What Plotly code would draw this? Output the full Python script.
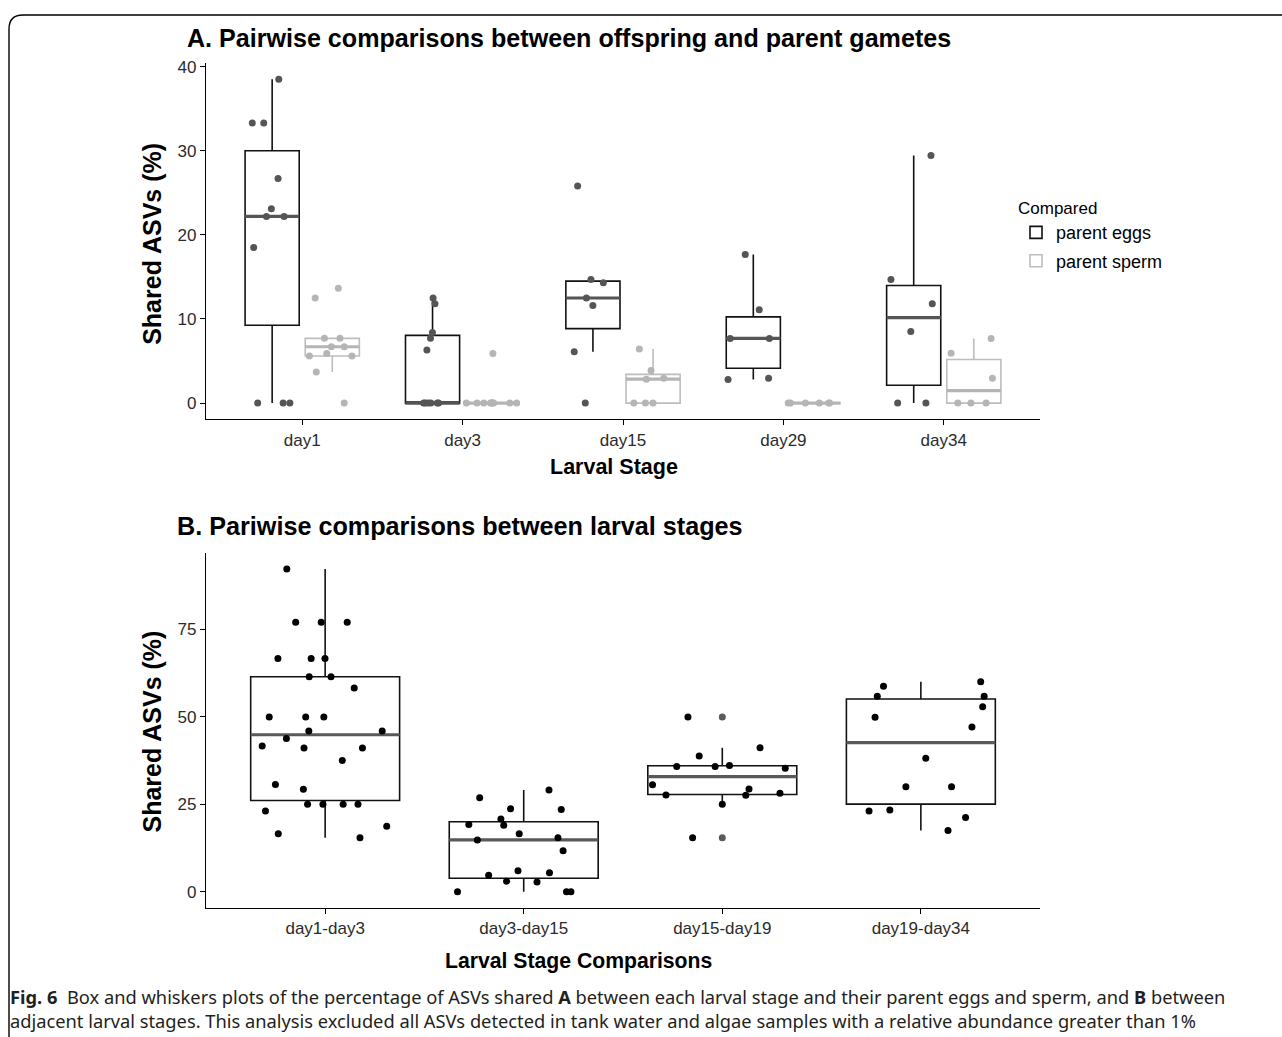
import numpy as np
import plotly.graph_objects as go

W, H = 1282, 1037

# ---------------- data ----------------
stages = ["day1", "day3", "day15", "day29", "day34"]
compared = ["parent eggs", "parent sperm"]

eggs_day1 = [0, 0, 0, 18.5, 22.2, 22.2, 23.1, 26.7, 33.3, 33.3, 38.5]
eggs_day3 = [0, 0, 0, 0, 0, 0, 6.3, 7.7, 8.4, 11.8, 12.5]
eggs_day15 = [0, 6.1, 11.6, 12.5, 14.3, 14.7, 25.8]
eggs_day29 = [2.8, 2.96, 7.69, 7.69, 11.1, 17.67]
eggs_day34 = [0, 0, 8.52, 11.8, 14.7, 29.43]

sperm_day1 = [0, 3.7, 5.6, 5.6, 5.9, 6.7, 6.7, 7.7, 7.7, 12.5, 13.65]
sperm_day3 = [0, 0, 0, 0, 0, 0, 0, 0, 0, 0, 5.9]
sperm_day15 = [0, 0, 0, 2.84, 2.96, 3.87, 6.43]
sperm_day29 = [0, 0, 0, 0, 0, 0]
sperm_day34 = [0, 0, 0, 2.96, 5.92, 7.69]

comparisons = ["day1-day3", "day3-day15", "day15-day19", "day19-day34"]
b_day1_day3 = [15.4, 16.6, 18.7, 23.1, 25, 25, 25, 25, 29.3, 30.7, 37.5, 41.1, 41.1,
               41.7, 43.8, 46, 46, 50, 50, 50, 58.3, 61.5, 61.5, 66.7, 66.7, 66.7,
               77.1, 77.1, 77.1, 92.3]
b_day3_day15 = [0, 0, 0, 2.75, 3.0, 4.7, 5.4, 6.0, 11.7, 14.8, 15.4, 16.6, 19.0, 19.2,
                20.8, 23.5, 23.7, 26.9, 29.1]
b_day15_day19 = [15.4, 25.0, 27.6, 27.7, 28.2, 29.4, 30.6, 35.3, 35.8, 35.8, 36.1, 38.8,
                 41.2, 50.0]
b_day19_day34 = [17.5, 21.2, 23.1, 23.4, 30.0, 30.0, 38.2, 47.1, 49.9, 52.9, 55.9, 55.9,
                 58.8, 60.1]

yticks_a = [0, 10, 20, 30, 40]
yticks_b = [0, 25, 50, 75]

eggs = [eggs_day1, eggs_day3, eggs_day15, eggs_day29, eggs_day34]
sperm = [sperm_day1, sperm_day3, sperm_day15, sperm_day29, sperm_day34]
bvals = [b_day1_day3, b_day3_day15, b_day15_day19, b_day19_day34]


# ---------------- helpers ----------------
def stats(groups):
    out = {"q1": [], "med": [], "q3": [], "lo": [], "hi": [], "outl": []}
    for g in groups:
        a = np.array(g, dtype=float)
        q1, med, q3 = np.percentile(a, [25, 50, 75])
        iqr = q3 - q1
        hi = a[a <= q3 + 1.5 * iqr].max()
        lo = a[a >= q1 - 1.5 * iqr].min()
        out["q1"].append(q1)
        out["med"].append(med)
        out["q3"].append(q3)
        out["lo"].append(lo)
        out["hi"].append(hi)
        out["outl"].append([v for v in g if v < lo or v > hi])
    return out


def px(x):
    return x / W


def py(y):
    return 1 - y / H


FONT = "Liberation Sans, Arial, Helvetica, sans-serif"

fig = go.Figure()

# ---------------- panel A ----------------
styles_a = [
    dict(name="parent eggs", line="#111111", median="#555555", pts="#555555", og="eggs"),
    dict(name="parent sperm", line="#bdbdbd", median="#b5b5b5", pts="#b5b5b5", og="sperm"),
]
for data, st in zip([eggs, sperm], styles_a):
    s = stats(data)
    fig.add_trace(go.Box(
        x=stages, q1=s["q1"], median=s["med"], q3=s["q3"],
        lowerfence=s["lo"], upperfence=s["hi"],
        name=st["name"], legendgroup=st["name"], showlegend=True,
        offsetgroup=st["og"], alignmentgroup="A",
        line=dict(color=st["line"], width=1.6), fillcolor="white",
        whiskerwidth=0, boxpoints=False, xaxis="x", yaxis="y", hoverinfo="skip"))
for data, st in zip([eggs, sperm], styles_a):
    s = stats(data)
    fig.add_trace(go.Box(
        x=stages, q1=s["med"], median=s["med"], q3=s["med"],
        lowerfence=s["med"], upperfence=s["med"],
        name=st["name"], legendgroup=st["name"], showlegend=False,
        offsetgroup=st["og"], alignmentgroup="A",
        line=dict(color=st["median"], width=3.2), fillcolor="rgba(0,0,0,0)",
        whiskerwidth=0, boxpoints=False, xaxis="x", yaxis="y", hoverinfo="skip"))
for data, st in zip([eggs, sperm], styles_a):
    xs, ys = [], []
    for stg, vals in zip(stages, data):
        xs += [stg] * len(vals)
        ys += list(vals)
    fig.add_trace(go.Box(
        x=xs, y=ys, name=st["name"], legendgroup=st["name"], showlegend=False,
        offsetgroup=st["og"], alignmentgroup="A",
        boxpoints="all", jitter=1, pointpos=0,
        line=dict(color="rgba(0,0,0,0)", width=0), fillcolor="rgba(0,0,0,0)",
        whiskerwidth=0,
        marker=dict(color=st["pts"], size=7, line=dict(width=0)),
        xaxis="x", yaxis="y", hoverinfo="y"))

# ---------------- panel B ----------------
sb = stats(bvals)
fig.add_trace(go.Box(
    x=comparisons, q1=sb["q1"], median=sb["med"], q3=sb["q3"],
    lowerfence=sb["lo"], upperfence=sb["hi"], width=0.75,
    line=dict(color="#111111", width=1.6), fillcolor="white", whiskerwidth=0,
    boxpoints=False, showlegend=False, xaxis="x2", yaxis="y2", hoverinfo="skip"))
fig.add_trace(go.Box(
    x=comparisons, q1=sb["med"], median=sb["med"], q3=sb["med"],
    lowerfence=sb["med"], upperfence=sb["med"], width=0.75,
    line=dict(color="#595959", width=3.2), fillcolor="rgba(0,0,0,0)", whiskerwidth=0,
    boxpoints=False, showlegend=False, xaxis="x2", yaxis="y2", hoverinfo="skip"))
ox, oy = [], []
for c, o in zip(comparisons, sb["outl"]):
    ox += [c] * len(o)
    oy += o
fig.add_trace(go.Scatter(
    x=ox, y=oy, mode="markers", marker=dict(color="#5a5a5a", size=7),
    showlegend=False, xaxis="x2", yaxis="y2", hoverinfo="y"))
xs, ys = [], []
for c, vals in zip(comparisons, bvals):
    xs += [c] * len(vals)
    ys += list(vals)
fig.add_trace(go.Box(
    x=xs, y=ys, width=0.8, boxpoints="all", jitter=1, pointpos=0,
    line=dict(color="rgba(0,0,0,0)", width=0), fillcolor="rgba(0,0,0,0)", whiskerwidth=0,
    marker=dict(color="#000000", size=7, line=dict(width=0)),
    showlegend=False, xaxis="x2", yaxis="y2", hoverinfo="y"))


def yrange(groups):
    allv = [v for g in groups for v in g]
    lo, hi = min(allv), max(allv)
    span = hi - lo
    return [lo - 0.05 * span, hi + 0.05 * span]


ya = yrange(eggs + sperm)
yb = yrange(bvals)

axis_common = dict(showline=True, linecolor="black", linewidth=1.3, ticks="outside",
                   ticklen=5, tickwidth=1.2, tickcolor="black", showgrid=False,
                   zeroline=False, tickfont=dict(family=FONT, size=17, color="#2b2b2b"))

fig.update_layout(
    width=W, height=H, autosize=False,
    margin=dict(l=0, r=0, t=0, b=0),
    paper_bgcolor="white", plot_bgcolor="white",
    boxmode="group", boxgap=0.25, boxgroupgap=0.1,
    xaxis=dict(domain=[px(206), px(1040)], anchor="y", type="category",
               categoryorder="array", categoryarray=stages,
               range=[-0.6, len(stages) - 0.4], **axis_common),
    yaxis=dict(domain=[py(416.3), py(58.4)], anchor="x", range=ya,
               tickvals=yticks_a, **axis_common),
    xaxis2=dict(domain=[px(206), px(1040)], anchor="y2", type="category",
                categoryorder="array", categoryarray=comparisons,
                range=[-0.6, len(comparisons) - 0.4], **axis_common),
    yaxis2=dict(domain=[py(907.2), py(550.6)], anchor="x2", range=yb,
                tickvals=yticks_b, **axis_common),
    legend=dict(x=px(1016), y=py(188), xanchor="left", yanchor="top",
                title=dict(text="Compared", font=dict(family=FONT, size=17, color="black")),
                font=dict(family=FONT, size=18, color="black"),
                bgcolor="rgba(0,0,0,0)", tracegroupgap=2),
    showlegend=True,
)

ann = [
    dict(text="<b>A. Pairwise comparisons between offspring and parent gametes</b>",
         x=px(185), y=py(33), xanchor="left", yanchor="middle", size=25.1),
    dict(text="<b>B. Pariwise comparisons between larval stages</b>",
         x=px(175), y=py(524), xanchor="left", yanchor="middle", size=25.2),
    dict(text="<b>Shared ASVs (%)</b>", x=px(152), y=py(240), xanchor="center",
         yanchor="middle", size=25, angle=-90),
    dict(text="<b>Shared ASVs (%)</b>", x=px(152), y=py(730), xanchor="center",
         yanchor="middle", size=25, angle=-90),
    dict(text="<b>Larval Stage</b>", x=px(614), y=py(464), xanchor="center",
         yanchor="middle", size=21.5),
    dict(text="<b>Larval Stage Comparisons</b>", x=px(578), y=py(961), xanchor="center",
         yanchor="middle", size=21.2),
]
for a in ann:
    fig.add_annotation(text=a["text"], x=a["x"], y=a["y"], xref="paper", yref="paper",
                       xanchor=a["xanchor"], yanchor=a["yanchor"], showarrow=False,
                       textangle=a.get("angle", 0),
                       font=dict(family=FONT, size=a["size"], color="black"))

CAP = "Noto Sans, Open Sans, sans-serif"
cap1 = ("<b>Fig. 6</b>  Box and whiskers plots of the percentage of ASVs shared <b>A</b> "
        "between each larval stage and their parent eggs and sperm, and <b>B</b> between")
cap2 = ("adjacent larval stages. This analysis excluded all ASVs detected in tank water "
        "and algae samples with a relative abundance greater than 1%")
fig.add_annotation(text=cap1, x=px(8), y=py(996), xref="paper", yref="paper",
                   xanchor="left", yanchor="middle", showarrow=False,
                   font=dict(family=CAP, size=18.3, color="#231f20"))
fig.add_annotation(text=cap2, x=px(8), y=py(1020), xref="paper", yref="paper",
                   xanchor="left", yanchor="middle", showarrow=False,
                   font=dict(family=CAP, size=18.3, color="#231f20"))

# figure frame with rounded top-left corner
r = 14
x0, y0 = 9, 10
path = (f"M {px(x0)},{py(H + 5)} L {px(x0)},{py(y0 + r)} "
        f"Q {px(x0)},{py(y0)} {px(x0 + r)},{py(y0)} L {px(W + 5)},{py(y0)}")
fig.add_shape(type="path", path=path, xref="paper", yref="paper",
              line=dict(color="black", width=1.4))

fig.write_html("out.html")
